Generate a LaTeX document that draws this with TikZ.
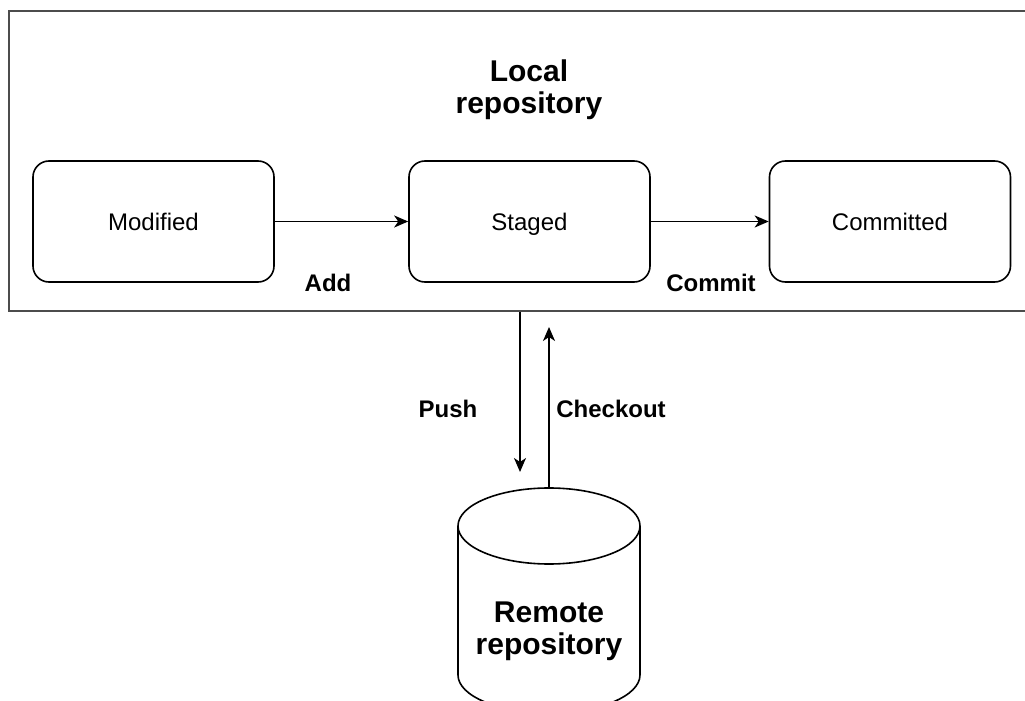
\documentclass[tikz,border=0pt]{standalone}
\usepackage{fontspec}
\setmainfont{Liberation Sans}
\usetikzlibrary{arrows.meta}
\begin{document}
\begin{tikzpicture}[x=0.5pt, y=-0.5pt, >={Stealth[length=7pt,width=6pt,inset=2pt]},
  state/.style={draw, line width=0.8pt, rounded corners=8pt, minimum width=120.5pt, minimum height=60.5pt, text height=8.6pt, text depth=0pt, font=\fontsize{12}{14}\selectfont},
  action/.style={font=\bfseries\fontsize{12}{14}\selectfont},
  title/.style={font=\bfseries\fontsize{15}{16}\selectfont, align=center},
  flow/.style={->, line width=0.8pt}]
\useasboundingbox (0,0) rectangle (1025,701);
% local repository frame, open on the right
\node[draw=black!70, line width=1pt, minimum width=520pt, minimum height=150pt, inner sep=0pt] (local) at (528.5,161) {};
\node[title] (localtitle) at (529,90) {Local\\repository};
\node[state] (mod) at (153.5,221.5) {Modified};
\node[state] (stg) at (529.5,221.5) {Staged};
\node[state] (com) at (890,221.5) {Committed};
\draw[flow] (mod) -- (stg);
\draw[flow] (stg) -- (com);
\node[action] (add) at (328,283) {Add};
\node[action] (commit) at (711,283) {Commit};
% remote repository cylinder
\coordinate (cyltop) at (549,488);
\coordinate (pushx) at (520,0);
\draw[line width=0.8pt] (458,526) -- (458,675) arc[start angle=180, end angle=0, x radius=91, y radius=38] -- (640,526);
\draw[line width=0.8pt] (549,526) ellipse[x radius=91, y radius=38];
\node[title] (remote) at (549,631) {Remote\\repository};
\draw[flow] (local.south -| pushx) -- ([yshift=8pt]cyltop -| pushx);
\draw[flow] (cyltop) -- ([yshift=-7.5pt]local.south -| cyltop);
\node[action] (push) at (448,409) {Push};
\node[action] (checkout) at (611,409) {Checkout};
\end{tikzpicture}
\end{document}
